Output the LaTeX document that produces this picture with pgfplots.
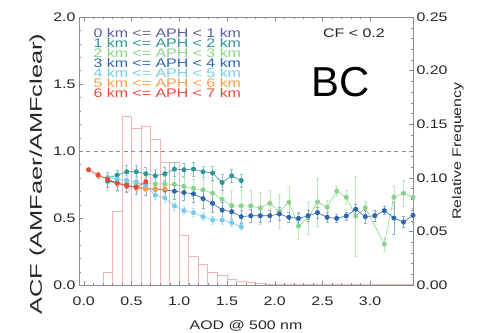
\documentclass[border=0pt]{standalone}
\usepackage{pgfplots}
\pgfplotsset{compat=1.18}
\usepackage{fontspec}
\setmainfont[FakeStretch=1.28]{Liberation Sans}
\newfontfamily\plainfont{Liberation Sans}
\newfontfamily\ylfont[FakeStretch=1.5]{Liberation Sans}
\definecolor{cP}{HTML}{5B5BA6}
\definecolor{cT}{HTML}{2E9598}
\definecolor{cG}{HTML}{8BD38B}
\definecolor{cB}{HTML}{2F66AE}
\definecolor{cL}{HTML}{79CBEE}
\definecolor{cO}{HTML}{F5A04A}
\definecolor{cR}{HTML}{E84A3C}
\definecolor{cH}{HTML}{F0B4B4}
\newcommand\fs{\fontsize{12.5}{14}\selectfont}
\newcommand\legfont{\fontsize{12.5}{10.1}\selectfont\lineskiplimit=-20pt\relax}
\pgfplotsset{
  base/.style={scale only axis, width=334bp, height=268bp, at={(0,0)}, anchor=south west,
    xmin=-0.05, xmax=3.45, tick align=inside, axis line style={black!45}, tick style={black!45},
    /pgf/number format/assume math mode=true,
    tick label style={font=\fs, text=black!85}, label style={font=\fs, text=black!85},
    major tick length=4bp, minor tick length=2.5bp},
  ser/.style={color=#1, line width=0.6pt, mark=*, mark size=2.2pt, mark options={solid, fill=#1, draw=#1},
    error bars/.cd, y dir=both, y explicit,
    error bar style={#1!55, line width=0.5pt},
    error mark options={rotate=90, mark size=1.5pt, #1!55, line width=0.5pt}},
}
\begin{document}
\begin{tikzpicture}
\begin{axis}[base, ymin=0, ymax=0.25, xtick=\empty, ytick={0,0.05,0.10,0.15,0.20,0.25},
  minor y tick num=4, ytick pos=right,
  yticklabel style={/pgf/number format/fixed, /pgf/number format/fixed zerofill, /pgf/number format/precision=2},
  ylabel={Relative Frequency},
  ylabel style={at={(axis description cs:1.1347,0.5)}, anchor=center}]
\addplot[ybar interval, draw=cH, fill=none, line width=0.7pt] table {
x y
0.0 0
0.1 0
0.2 0.0115
0.3 0.069
0.4 0.157
0.5 0.146
0.6 0.148
0.7 0.136
0.8 0.114
0.9 0.114
1.0 0.046
1.1 0.027
1.2 0.019
1.3 0.012
1.4 0.009
1.5 0.0056
1.6 0.0037
1.7 0.0028
1.8 0.0015
1.9 0.001
2.0 0.0005
2.1 0.0005
2.2 0.0005
2.3 0.0005
2.4 0.0005
2.5 0.0005
2.6 0.0005
2.7 0.0005
2.8 0.0005
2.9 0.0005
3.0 0.0005
3.1 0.0005
3.2 0.0005
3.3 0.0005
3.4 0.0005
3.45 0
};
\end{axis}
\begin{axis}[base, ymin=0, ymax=2, ytick={0,0.5,1,1.5,2}, minor y tick num=4, ytick pos=left,
  xtick={0,0.5,1,1.5,2,2.5,3}, minor x tick num=4,
  xticklabel style={/pgf/number format/fixed, /pgf/number format/fixed zerofill, /pgf/number format/precision=1, anchor=base, yshift=-20bp},
  yticklabel style={/pgf/number format/fixed, /pgf/number format/fixed zerofill, /pgf/number format/precision=1},
  xlabel={AOD @ 500 nm},
  xlabel style={at={(rel axis cs:0.5,0)}, anchor=base, yshift=-44bp},
  ylabel={ACF (AMFaer/AMFclear)},
  ylabel style={at={(axis description cs:-0.1243,0.4142)}, anchor=center, font=\ylfont\fontsize{17}{20}\selectfont}]
\addplot[black!45, dash pattern=on 4bp off 3.5bp, line width=0.6pt] coordinates {(-0.05,1) (3.45,1)};
% 2-3 km
\addplot[ser=cG] table[x=x, y=y, y error=e] {
x y e
0.25 0.77 0.06
0.35 0.76 0.06
0.45 0.76 0.06
0.55 0.76 0.05
0.65 0.755 0.05
0.75 0.755 0.05
0.85 0.755 0.06
0.95 0.75 0.06
1.05 0.735 0.07
1.15 0.72 0.07
1.25 0.71 0.08
1.35 0.685 0.09
1.45 0.64 0.10
1.55 0.59 0.12
1.65 0.59 0.12
1.75 0.59 0.12
1.85 0.575 0.12
1.95 0.61 0.10
2.05 0.55 0.13
2.15 0.617 0.12
2.25 0.44 0.10
2.35 0.50 0.12
2.45 0.62 0.18
2.55 0.58 0.05
2.65 0.70 0.04
2.75 0.655 0.05
2.85 0.515 0.30
2.95 0.577 0.05
3.15 0.305 0.05
3.25 0.655 0.08
3.35 0.685 0.10
3.45 0.655 0.08
};
% 1-2 km
\addplot[ser=cT] table[x=x, y=y, y error=e] {
x y e
0.25 0.80 0.04
0.35 0.82 0.04
0.45 0.845 0.05
0.55 0.845 0.05
0.65 0.83 0.05
0.75 0.815 0.05
0.85 0.83 0.05
0.95 0.865 0.05
1.05 0.86 0.05
1.15 0.865 0.05
1.25 0.845 0.04
1.35 0.835 0.05
1.45 0.765 0.06
1.55 0.815 0.05
1.65 0.78 0.05
};
% 3-4 km
\addplot[ser=cB] table[x=x, y=y, y error=e] {
x y e
0.25 0.78 0.05
0.35 0.76 0.05
0.45 0.745 0.05
0.55 0.73 0.05
0.65 0.72 0.05
0.75 0.715 0.05
0.85 0.71 0.05
0.95 0.70 0.06
1.05 0.69 0.06
1.15 0.68 0.06
1.25 0.645 0.07
1.35 0.61 0.07
1.45 0.56 0.06
1.55 0.547 0.06
1.65 0.51 0.05
1.75 0.517 0.05
1.85 0.517 0.05
1.95 0.517 0.04
2.05 0.53 0.05
2.15 0.505 0.04
2.25 0.497 0.04
2.35 0.517 0.04
2.45 0.54 0.04
2.55 0.505 0.04
2.65 0.497 0.03
2.75 0.515 0.03
2.85 0.565 0.04
2.95 0.51 0.05
3.05 0.517 0.04
3.15 0.555 0.03
3.25 0.50 0.12
3.35 0.47 0.04
3.45 0.52 0.05
};
% 4-5 km
\addplot[ser=cL] table[x=x, y=y, y error=e] {
x y e
0.25 0.80 0.03
0.35 0.79 0.03
0.45 0.78 0.03
0.55 0.77 0.03
0.65 0.74 0.03
0.75 0.67 0.03
0.85 0.65 0.03
0.95 0.59 0.03
1.05 0.555 0.03
1.15 0.54 0.03
1.25 0.51 0.03
1.35 0.485 0.03
1.45 0.485 0.03
1.55 0.465 0.03
1.65 0.435 0.02
};
% 5-6 km
\addplot[ser=cO] table[x=x, y=y, y error=e] {
x y e
0.15 0.82 0.02
0.25 0.79 0.02
0.35 0.76 0.02
0.45 0.74 0.02
0.55 0.726 0.02
0.65 0.716 0.02
0.75 0.716 0.02
0.85 0.716 0.02
};
% 6-7 km
\addplot[ser=cR] table[x=x, y=y, y error=e] {
x y e
0.05 0.86 0.01
0.15 0.82 0.02
0.25 0.79 0.02
0.35 0.76 0.02
0.45 0.74 0.02
0.55 0.73 0.02
0.65 0.77 0.02
};
\node[anchor=north west, inner sep=0, align=left, font=\legfont]
  at (axis cs:0.10,1.9157) {%
  \textcolor{cP}{0 km <= APH < 1 km}\\
  \textcolor{cT}{1 km <= APH < 2 km}\\
  \textcolor{cG}{2 km <= APH < 3 km}\\
  \textcolor{cB}{3 km <= APH < 4 km}\\
  \textcolor{cL}{4 km <= APH < 5 km}\\
  \textcolor{cO}{5 km <= APH < 6 km}\\
  \textcolor{cR}{6 km <= APH < 7 km}};
\node[anchor=base, inner sep=0, font=\fs, text=black!85] at (axis cs:2.832,1.849) {CF < 0.2};
\node[anchor=base, inner sep=0, font=\plainfont\fontsize{42}{44}\selectfont] at (axis cs:2.695,1.405) {BC};
\end{axis}
\pgfresetboundingbox
\path[use as bounding box] (-79bp,-48bp) rectangle (402bp,285bp);
\end{tikzpicture}
\end{document}
